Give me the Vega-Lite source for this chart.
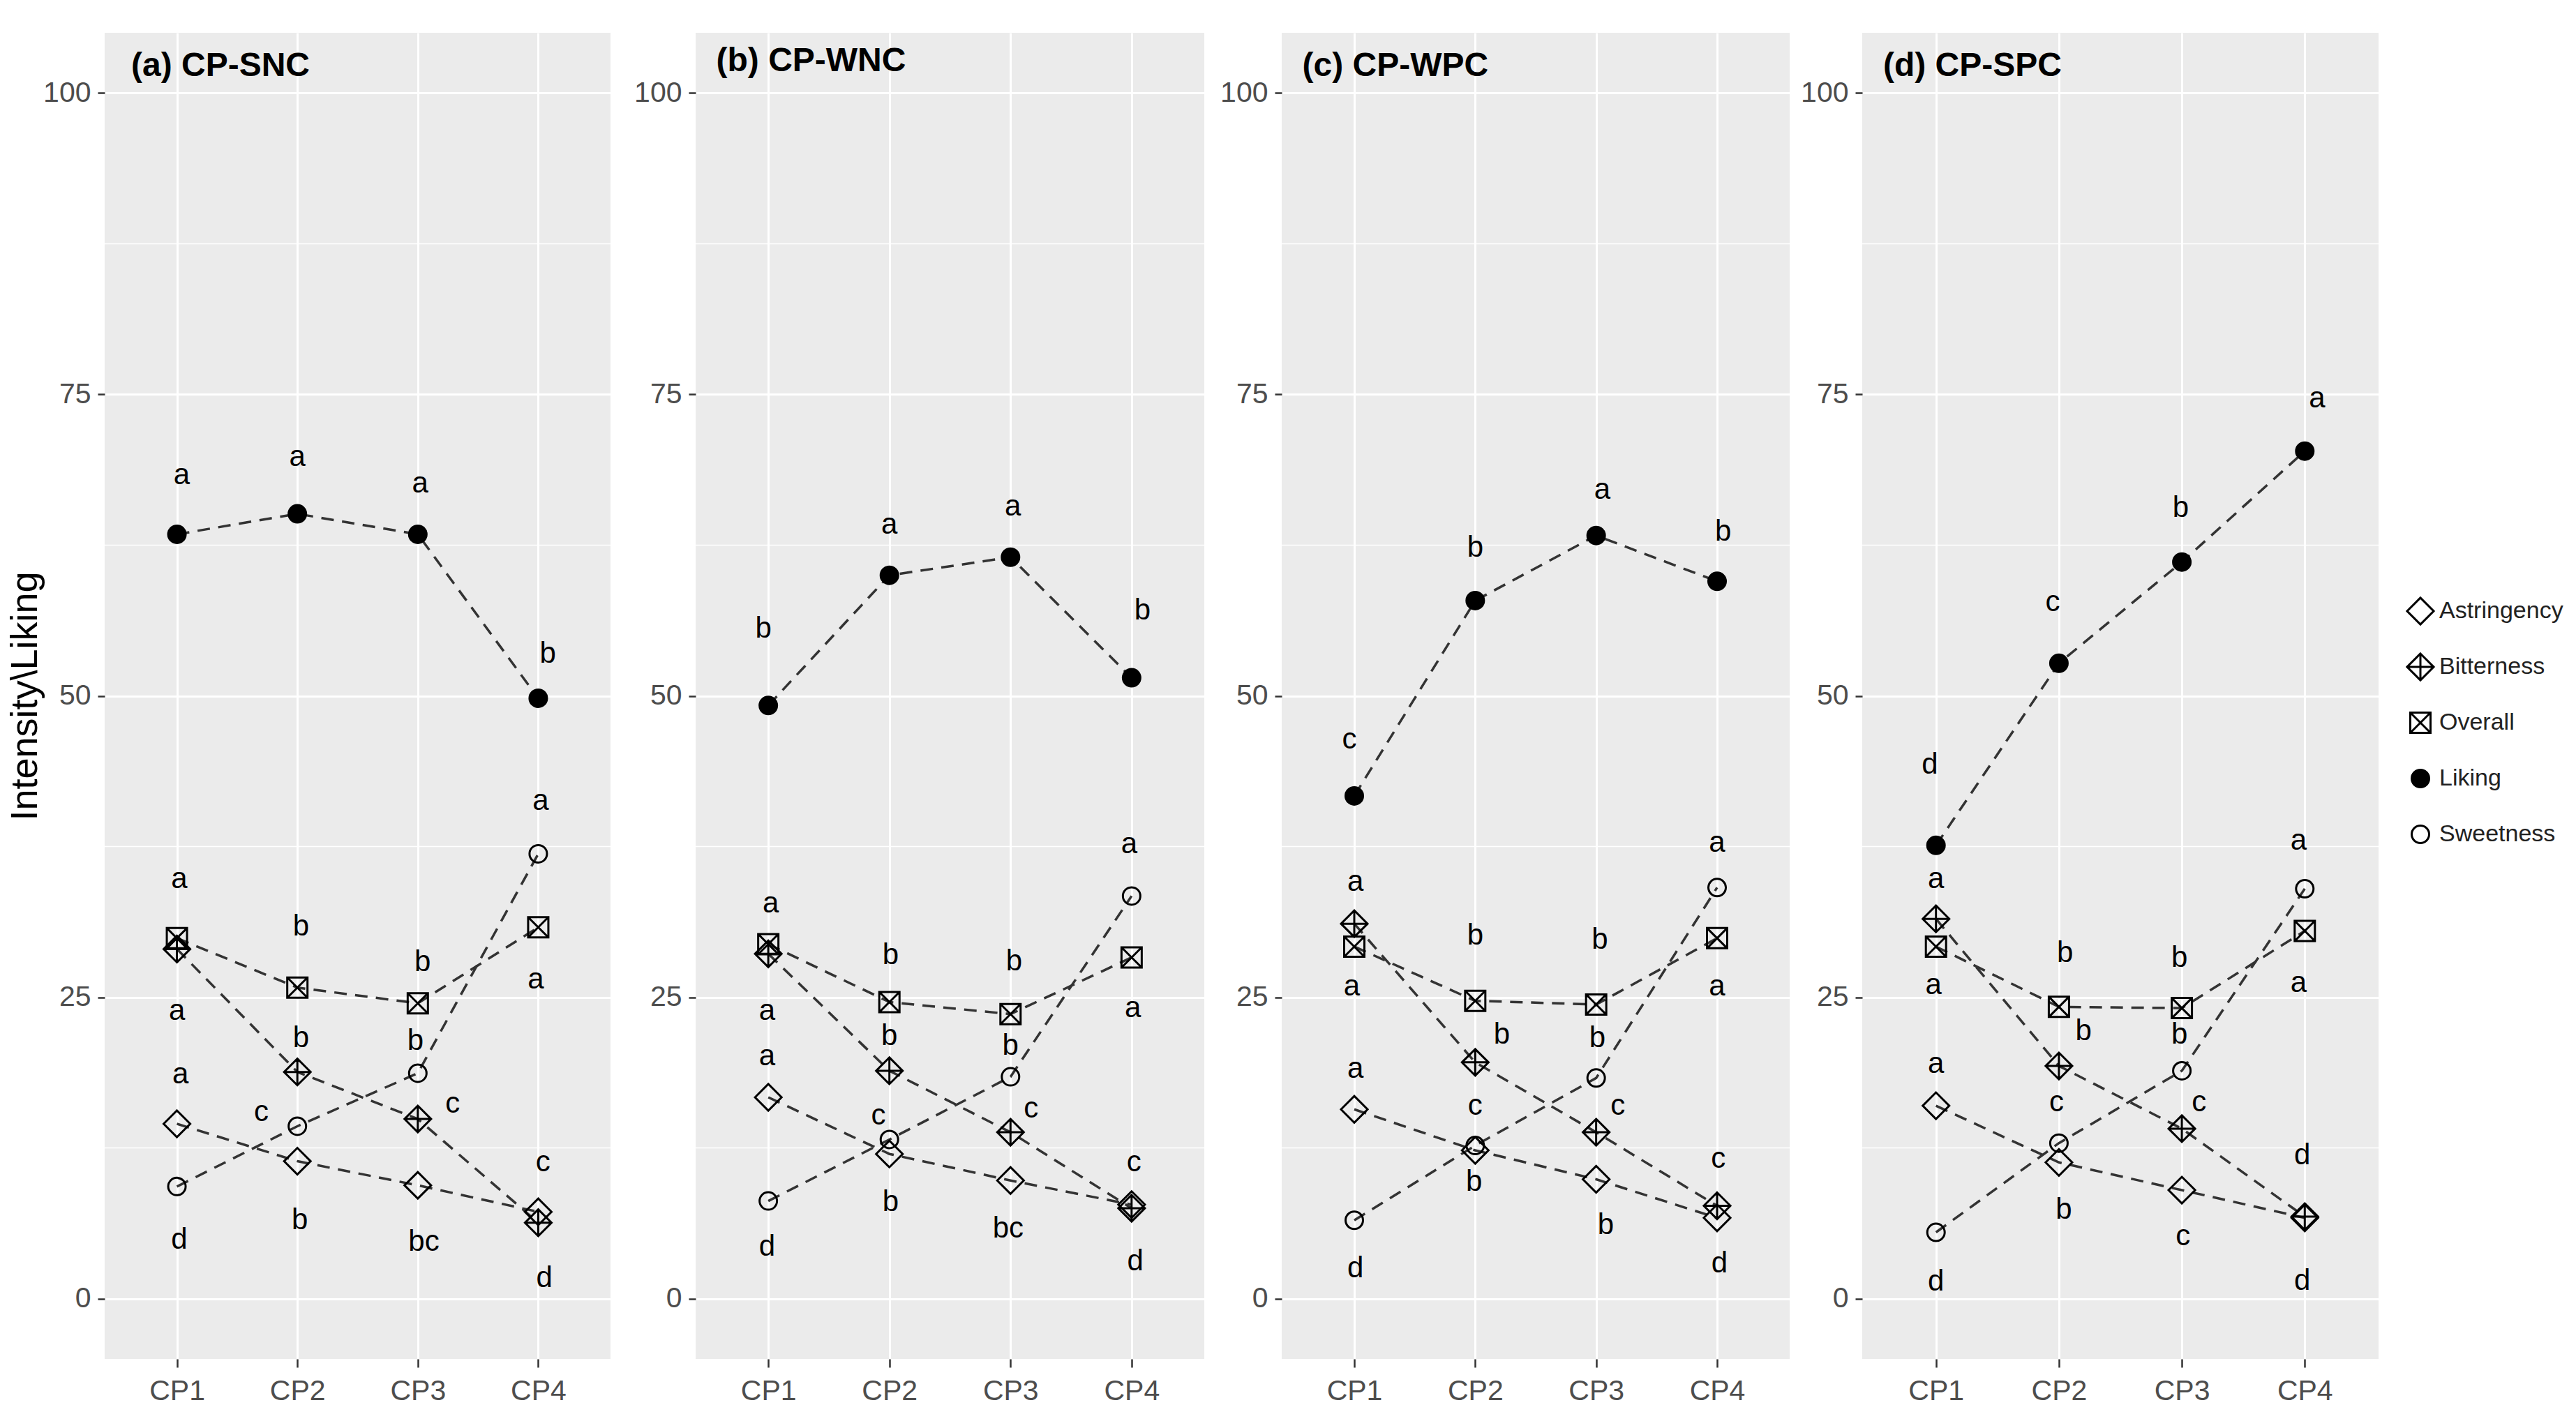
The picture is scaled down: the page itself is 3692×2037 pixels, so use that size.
{
  "$schema": "https://vega.github.io/schema/vega-lite/v6.json",
  "padding": {"left": 9, "top": 47, "right": 0, "bottom": 0},
  "datasets": {
    "pts": [
      {"panel":"a","attr":"Liking","cp":1,"value":63.4},{"panel":"a","attr":"Liking","cp":2,"value":65.1},{"panel":"a","attr":"Liking","cp":3,"value":63.4},{"panel":"a","attr":"Liking","cp":4,"value":49.8},
      {"panel":"a","attr":"Overall","cp":1,"value":29.9},{"panel":"a","attr":"Overall","cp":2,"value":25.8},{"panel":"a","attr":"Overall","cp":3,"value":24.5},{"panel":"a","attr":"Overall","cp":4,"value":30.8},
      {"panel":"a","attr":"Bitterness","cp":1,"value":29.0},{"panel":"a","attr":"Bitterness","cp":2,"value":18.8},{"panel":"a","attr":"Bitterness","cp":3,"value":14.9},{"panel":"a","attr":"Bitterness","cp":4,"value":6.3},
      {"panel":"a","attr":"Astringency","cp":1,"value":14.5},{"panel":"a","attr":"Astringency","cp":2,"value":11.4},{"panel":"a","attr":"Astringency","cp":3,"value":9.4},{"panel":"a","attr":"Astringency","cp":4,"value":7.2},
      {"panel":"a","attr":"Sweetness","cp":1,"value":9.3},{"panel":"a","attr":"Sweetness","cp":2,"value":14.3},{"panel":"a","attr":"Sweetness","cp":3,"value":18.7},{"panel":"a","attr":"Sweetness","cp":4,"value":36.9},
      {"panel":"b","attr":"Liking","cp":1,"value":49.2},{"panel":"b","attr":"Liking","cp":2,"value":60.0},{"panel":"b","attr":"Liking","cp":3,"value":61.5},{"panel":"b","attr":"Liking","cp":4,"value":51.5},
      {"panel":"b","attr":"Overall","cp":1,"value":29.4},{"panel":"b","attr":"Overall","cp":2,"value":24.6},{"panel":"b","attr":"Overall","cp":3,"value":23.6},{"panel":"b","attr":"Overall","cp":4,"value":28.3},
      {"panel":"b","attr":"Bitterness","cp":1,"value":28.6},{"panel":"b","attr":"Bitterness","cp":2,"value":18.9},{"panel":"b","attr":"Bitterness","cp":3,"value":13.8},{"panel":"b","attr":"Bitterness","cp":4,"value":7.5},
      {"panel":"b","attr":"Astringency","cp":1,"value":16.7},{"panel":"b","attr":"Astringency","cp":2,"value":12.0},{"panel":"b","attr":"Astringency","cp":3,"value":9.8},{"panel":"b","attr":"Astringency","cp":4,"value":7.8},
      {"panel":"b","attr":"Sweetness","cp":1,"value":8.1},{"panel":"b","attr":"Sweetness","cp":2,"value":13.2},{"panel":"b","attr":"Sweetness","cp":3,"value":18.4},{"panel":"b","attr":"Sweetness","cp":4,"value":33.4},
      {"panel":"c","attr":"Liking","cp":1,"value":41.7},{"panel":"c","attr":"Liking","cp":2,"value":57.9},{"panel":"c","attr":"Liking","cp":3,"value":63.3},{"panel":"c","attr":"Liking","cp":4,"value":59.5},
      {"panel":"c","attr":"Overall","cp":1,"value":29.2},{"panel":"c","attr":"Overall","cp":2,"value":24.7},{"panel":"c","attr":"Overall","cp":3,"value":24.4},{"panel":"c","attr":"Overall","cp":4,"value":29.9},
      {"panel":"c","attr":"Bitterness","cp":1,"value":31.1},{"panel":"c","attr":"Bitterness","cp":2,"value":19.6},{"panel":"c","attr":"Bitterness","cp":3,"value":13.8},{"panel":"c","attr":"Bitterness","cp":4,"value":7.7},
      {"panel":"c","attr":"Astringency","cp":1,"value":15.7},{"panel":"c","attr":"Astringency","cp":2,"value":12.3},{"panel":"c","attr":"Astringency","cp":3,"value":9.9},{"panel":"c","attr":"Astringency","cp":4,"value":6.7},
      {"panel":"c","attr":"Sweetness","cp":1,"value":6.5},{"panel":"c","attr":"Sweetness","cp":2,"value":12.7},{"panel":"c","attr":"Sweetness","cp":3,"value":18.3},{"panel":"c","attr":"Sweetness","cp":4,"value":34.1},
      {"panel":"d","attr":"Liking","cp":1,"value":37.6},{"panel":"d","attr":"Liking","cp":2,"value":52.7},{"panel":"d","attr":"Liking","cp":3,"value":61.1},{"panel":"d","attr":"Liking","cp":4,"value":70.3},
      {"panel":"d","attr":"Overall","cp":1,"value":29.2},{"panel":"d","attr":"Overall","cp":2,"value":24.2},{"panel":"d","attr":"Overall","cp":3,"value":24.1},{"panel":"d","attr":"Overall","cp":4,"value":30.5},
      {"panel":"d","attr":"Bitterness","cp":1,"value":31.5},{"panel":"d","attr":"Bitterness","cp":2,"value":19.3},{"panel":"d","attr":"Bitterness","cp":3,"value":14.1},{"panel":"d","attr":"Bitterness","cp":4,"value":6.8},
      {"panel":"d","attr":"Astringency","cp":1,"value":16.0},{"panel":"d","attr":"Astringency","cp":2,"value":11.3},{"panel":"d","attr":"Astringency","cp":3,"value":9.0},{"panel":"d","attr":"Astringency","cp":4,"value":6.7},
      {"panel":"d","attr":"Sweetness","cp":1,"value":5.5},{"panel":"d","attr":"Sweetness","cp":2,"value":12.9},{"panel":"d","attr":"Sweetness","cp":3,"value":18.9},{"panel":"d","attr":"Sweetness","cp":4,"value":34.0}
    ],
    "lbl": [
      {"panel":"a","lx":1.04,"ly":68.3,"letter":"a"},{"panel":"a","lx":2.0,"ly":69.8,"letter":"a"},{"panel":"a","lx":3.02,"ly":67.6,"letter":"a"},{"panel":"a","lx":4.08,"ly":53.5,"letter":"b"},
      {"panel":"a","lx":1.02,"ly":34.8,"letter":"a"},{"panel":"a","lx":1.0,"ly":23.9,"letter":"a"},{"panel":"a","lx":1.03,"ly":18.6,"letter":"a"},{"panel":"a","lx":1.02,"ly":4.9,"letter":"d"},
      {"panel":"a","lx":2.03,"ly":30.9,"letter":"b"},{"panel":"a","lx":2.03,"ly":21.6,"letter":"b"},{"panel":"a","lx":1.7,"ly":15.5,"letter":"c"},{"panel":"a","lx":2.02,"ly":6.5,"letter":"b"},
      {"panel":"a","lx":3.04,"ly":27.9,"letter":"b"},{"panel":"a","lx":2.98,"ly":21.4,"letter":"b"},{"panel":"a","lx":3.29,"ly":16.2,"letter":"c"},{"panel":"a","lx":3.05,"ly":4.7,"letter":"bc"},
      {"panel":"a","lx":4.02,"ly":41.3,"letter":"a"},{"panel":"a","lx":3.98,"ly":26.5,"letter":"a"},{"panel":"a","lx":4.04,"ly":11.3,"letter":"c"},{"panel":"a","lx":4.05,"ly":1.7,"letter":"d"},
      {"panel":"b","lx":0.96,"ly":55.6,"letter":"b"},{"panel":"b","lx":2.0,"ly":64.2,"letter":"a"},{"panel":"b","lx":3.02,"ly":65.7,"letter":"a"},{"panel":"b","lx":4.09,"ly":57.1,"letter":"b"},
      {"panel":"b","lx":1.02,"ly":32.8,"letter":"a"},{"panel":"b","lx":0.99,"ly":23.9,"letter":"a"},{"panel":"b","lx":0.99,"ly":20.1,"letter":"a"},{"panel":"b","lx":0.99,"ly":4.3,"letter":"d"},
      {"panel":"b","lx":2.01,"ly":28.5,"letter":"b"},{"panel":"b","lx":2.0,"ly":21.8,"letter":"b"},{"panel":"b","lx":1.91,"ly":15.2,"letter":"c"},{"panel":"b","lx":2.01,"ly":8.0,"letter":"b"},
      {"panel":"b","lx":3.03,"ly":28.0,"letter":"b"},{"panel":"b","lx":3.0,"ly":21.0,"letter":"b"},{"panel":"b","lx":3.17,"ly":15.8,"letter":"c"},{"panel":"b","lx":2.98,"ly":5.8,"letter":"bc"},
      {"panel":"b","lx":3.98,"ly":37.7,"letter":"a"},{"panel":"b","lx":4.01,"ly":24.1,"letter":"a"},{"panel":"b","lx":4.02,"ly":11.3,"letter":"c"},{"panel":"b","lx":4.03,"ly":3.1,"letter":"d"},
      {"panel":"c","lx":0.96,"ly":46.4,"letter":"c"},{"panel":"c","lx":2.0,"ly":62.3,"letter":"b"},{"panel":"c","lx":3.05,"ly":67.1,"letter":"a"},{"panel":"c","lx":4.05,"ly":63.6,"letter":"b"},
      {"panel":"c","lx":1.01,"ly":34.6,"letter":"a"},{"panel":"c","lx":0.98,"ly":25.9,"letter":"a"},{"panel":"c","lx":1.01,"ly":19.1,"letter":"a"},{"panel":"c","lx":1.01,"ly":2.5,"letter":"d"},
      {"panel":"c","lx":2.0,"ly":30.1,"letter":"b"},{"panel":"c","lx":2.22,"ly":21.9,"letter":"b"},{"panel":"c","lx":2.0,"ly":16.0,"letter":"c"},{"panel":"c","lx":1.99,"ly":9.7,"letter":"b"},
      {"panel":"c","lx":3.03,"ly":29.8,"letter":"b"},{"panel":"c","lx":3.01,"ly":21.6,"letter":"b"},{"panel":"c","lx":3.18,"ly":16.0,"letter":"c"},{"panel":"c","lx":3.08,"ly":6.1,"letter":"b"},
      {"panel":"c","lx":4.0,"ly":37.8,"letter":"a"},{"panel":"c","lx":4.0,"ly":25.9,"letter":"a"},{"panel":"c","lx":4.01,"ly":11.6,"letter":"c"},{"panel":"c","lx":4.02,"ly":2.9,"letter":"d"},
      {"panel":"d","lx":0.95,"ly":44.3,"letter":"d"},{"panel":"d","lx":1.95,"ly":57.8,"letter":"c"},{"panel":"d","lx":2.99,"ly":65.6,"letter":"b"},{"panel":"d","lx":4.1,"ly":74.7,"letter":"a"},
      {"panel":"d","lx":1.0,"ly":34.8,"letter":"a"},{"panel":"d","lx":0.98,"ly":26.0,"letter":"a"},{"panel":"d","lx":1.0,"ly":19.5,"letter":"a"},{"panel":"d","lx":1.0,"ly":1.4,"letter":"d"},
      {"panel":"d","lx":2.05,"ly":28.7,"letter":"b"},{"panel":"d","lx":2.2,"ly":22.2,"letter":"b"},{"panel":"d","lx":1.98,"ly":16.3,"letter":"c"},{"panel":"d","lx":2.04,"ly":7.4,"letter":"b"},
      {"panel":"d","lx":2.98,"ly":28.3,"letter":"b"},{"panel":"d","lx":2.98,"ly":21.9,"letter":"b"},{"panel":"d","lx":3.14,"ly":16.3,"letter":"c"},{"panel":"d","lx":3.01,"ly":5.2,"letter":"c"},
      {"panel":"d","lx":3.95,"ly":38.0,"letter":"a"},{"panel":"d","lx":3.95,"ly":26.2,"letter":"a"},{"panel":"d","lx":3.98,"ly":11.9,"letter":"d"},{"panel":"d","lx":3.98,"ly":1.5,"letter":"d"}
    ],
    "minor": [{"v": 12.5}, {"v": 37.5}, {"v": 62.5}, {"v": 87.5}],
    "titles": [{"panel":"a","title":"(a) CP-SNC"},{"panel":"b","title":"(b) CP-WNC"},{"panel":"c","title":"(c) CP-WPC"},{"panel":"d","title":"(d) CP-SPC"}]
  },
  "spacing": 21,
  "hconcat": [
    {
      "spacing": 32,
      "hconcat": [
        {
          "width": 725, "height": 1901,
          "layer": [
            {"data": {"name": "minor"}, "mark": {"type": "rule", "color": "#FFFFFF", "strokeWidth": 1.5},
             "encoding": {"y": {"field": "v", "type": "quantitative", "title": "Intensity\\Liking", "scale": {"domain": [-5, 105], "nice": false, "zero": false}, "axis": {"values": [0, 25, 50, 75, 100]}}}},
            {"data": {"name": "pts"}, "transform": [{"filter": "datum.panel === 'a'"}],
             "mark": {"type": "line", "color": "#333333", "strokeWidth": 3.5, "strokeDash": [18, 12]},
             "encoding": {"x": {"field": "cp", "type": "quantitative", "title": null, "scale": {"domain": [0.4, 4.6], "nice": false, "zero": false}, "axis": {"values": [1, 2, 3, 4], "labelExpr": "'CP' + datum.value"}},
                          "y": {"field": "value", "type": "quantitative", "title": "Intensity\\Liking"}, "detail": {"field": "attr"}}},
            {"data": {"name": "pts"}, "transform": [{"filter": "datum.panel === 'a'"}],
             "mark": {"type": "point", "filled": false, "strokeWidth": 3, "opacity": 1},
             "encoding": {"x": {"field": "cp", "type": "quantitative", "title": null}, "y": {"field": "value", "type": "quantitative", "title": "Intensity\\Liking"},
                          "shape": {"field": "attr", "type": "nominal", "legend": {"title": null}, "scale": {"domain": ["Astringency","Bitterness","Overall","Liking","Sweetness"], "range": ["diamond", "M0,-1L1,0L0,1L-1,0Z M0,-1L0,1 M-1,0L1,0", "M-1,-1L1,-1L1,1L-1,1Z M-1,-1L1,1 M1,-1L-1,1", "circle", "circle"]}},
                          "fill": {"field": "attr", "type": "nominal", "legend": {"title": null}, "scale": {"domain": ["Astringency","Bitterness","Overall","Liking","Sweetness"], "range": ["transparent","transparent","transparent","#000000","transparent"]}},
                          "stroke": {"field": "attr", "type": "nominal", "legend": {"title": null}, "scale": {"domain": ["Astringency","Bitterness","Overall","Liking","Sweetness"], "range": ["#000000","#000000","#000000","#000000","#000000"]}},
                          "size": {"field": "attr", "type": "nominal", "legend": {"title": null}, "scale": {"type": "ordinal", "domain": ["Astringency","Bitterness","Overall","Liking","Sweetness"], "range": [1450, 1450, 841, 625, 625]}}}},
            {"data": {"name": "lbl"}, "transform": [{"filter": "datum.panel === 'a'"}],
             "mark": {"type": "text", "fontSize": 42, "color": "#000000", "align": "center", "baseline": "middle"},
             "encoding": {"x": {"field": "lx", "type": "quantitative", "title": null}, "y": {"field": "ly", "type": "quantitative", "title": "Intensity\\Liking"}, "text": {"field": "letter"}}},
            {"data": {"name": "titles"}, "transform": [{"filter": "datum.panel === 'a'"}],
             "mark": {"type": "text", "fontSize": 48, "fontWeight": "bold", "color": "#000000", "align": "left", "baseline": "alphabetic"},
             "encoding": {"x": {"datum": 0.62}, "y": {"datum": 101.4}, "text": {"field": "title"}}}
          ]
        },
        {
          "width": 729, "height": 1901,
          "layer": [
            {"data": {"name": "minor"}, "mark": {"type": "rule", "color": "#FFFFFF", "strokeWidth": 1.5},
             "encoding": {"y": {"field": "v", "type": "quantitative", "title": null, "scale": {"domain": [-5, 105], "nice": false, "zero": false}, "axis": {"values": [0, 25, 50, 75, 100]}}}},
            {"data": {"name": "pts"}, "transform": [{"filter": "datum.panel === 'b'"}],
             "mark": {"type": "line", "color": "#333333", "strokeWidth": 3.5, "strokeDash": [18, 12]},
             "encoding": {"x": {"field": "cp", "type": "quantitative", "title": null, "scale": {"domain": [0.4, 4.6], "nice": false, "zero": false}, "axis": {"values": [1, 2, 3, 4], "labelExpr": "'CP' + datum.value"}},
                          "y": {"field": "value", "type": "quantitative", "title": null}, "detail": {"field": "attr"}}},
            {"data": {"name": "pts"}, "transform": [{"filter": "datum.panel === 'b'"}],
             "mark": {"type": "point", "filled": false, "strokeWidth": 3, "opacity": 1},
             "encoding": {"x": {"field": "cp", "type": "quantitative", "title": null}, "y": {"field": "value", "type": "quantitative", "title": null},
                          "shape": {"field": "attr", "type": "nominal", "legend": {"title": null}, "scale": {"domain": ["Astringency","Bitterness","Overall","Liking","Sweetness"], "range": ["diamond", "M0,-1L1,0L0,1L-1,0Z M0,-1L0,1 M-1,0L1,0", "M-1,-1L1,-1L1,1L-1,1Z M-1,-1L1,1 M1,-1L-1,1", "circle", "circle"]}},
                          "fill": {"field": "attr", "type": "nominal", "legend": {"title": null}, "scale": {"domain": ["Astringency","Bitterness","Overall","Liking","Sweetness"], "range": ["transparent","transparent","transparent","#000000","transparent"]}},
                          "stroke": {"field": "attr", "type": "nominal", "legend": {"title": null}, "scale": {"domain": ["Astringency","Bitterness","Overall","Liking","Sweetness"], "range": ["#000000","#000000","#000000","#000000","#000000"]}},
                          "size": {"field": "attr", "type": "nominal", "legend": {"title": null}, "scale": {"type": "ordinal", "domain": ["Astringency","Bitterness","Overall","Liking","Sweetness"], "range": [1450, 1450, 841, 625, 625]}}}},
            {"data": {"name": "lbl"}, "transform": [{"filter": "datum.panel === 'b'"}],
             "mark": {"type": "text", "fontSize": 42, "color": "#000000", "align": "center", "baseline": "middle"},
             "encoding": {"x": {"field": "lx", "type": "quantitative", "title": null}, "y": {"field": "ly", "type": "quantitative", "title": null}, "text": {"field": "letter"}}},
            {"data": {"name": "titles"}, "transform": [{"filter": "datum.panel === 'b'"}],
             "mark": {"type": "text", "fontSize": 48, "fontWeight": "bold", "color": "#000000", "align": "left", "baseline": "alphabetic"},
             "encoding": {"x": {"datum": 0.57}, "y": {"datum": 101.8}, "text": {"field": "title"}}}
          ]
        }
      ]
    },
    {
      "spacing": 14,
      "hconcat": [
        {
          "width": 728, "height": 1901,
          "layer": [
            {"data": {"name": "minor"}, "mark": {"type": "rule", "color": "#FFFFFF", "strokeWidth": 1.5},
             "encoding": {"y": {"field": "v", "type": "quantitative", "title": null, "scale": {"domain": [-5, 105], "nice": false, "zero": false}, "axis": {"values": [0, 25, 50, 75, 100]}}}},
            {"data": {"name": "pts"}, "transform": [{"filter": "datum.panel === 'c'"}],
             "mark": {"type": "line", "color": "#333333", "strokeWidth": 3.5, "strokeDash": [18, 12]},
             "encoding": {"x": {"field": "cp", "type": "quantitative", "title": null, "scale": {"domain": [0.4, 4.6], "nice": false, "zero": false}, "axis": {"values": [1, 2, 3, 4], "labelExpr": "'CP' + datum.value"}},
                          "y": {"field": "value", "type": "quantitative", "title": null}, "detail": {"field": "attr"}}},
            {"data": {"name": "pts"}, "transform": [{"filter": "datum.panel === 'c'"}],
             "mark": {"type": "point", "filled": false, "strokeWidth": 3, "opacity": 1},
             "encoding": {"x": {"field": "cp", "type": "quantitative", "title": null}, "y": {"field": "value", "type": "quantitative", "title": null},
                          "shape": {"field": "attr", "type": "nominal", "legend": {"title": null}, "scale": {"domain": ["Astringency","Bitterness","Overall","Liking","Sweetness"], "range": ["diamond", "M0,-1L1,0L0,1L-1,0Z M0,-1L0,1 M-1,0L1,0", "M-1,-1L1,-1L1,1L-1,1Z M-1,-1L1,1 M1,-1L-1,1", "circle", "circle"]}},
                          "fill": {"field": "attr", "type": "nominal", "legend": {"title": null}, "scale": {"domain": ["Astringency","Bitterness","Overall","Liking","Sweetness"], "range": ["transparent","transparent","transparent","#000000","transparent"]}},
                          "stroke": {"field": "attr", "type": "nominal", "legend": {"title": null}, "scale": {"domain": ["Astringency","Bitterness","Overall","Liking","Sweetness"], "range": ["#000000","#000000","#000000","#000000","#000000"]}},
                          "size": {"field": "attr", "type": "nominal", "legend": {"title": null}, "scale": {"type": "ordinal", "domain": ["Astringency","Bitterness","Overall","Liking","Sweetness"], "range": [1450, 1450, 841, 625, 625]}}}},
            {"data": {"name": "lbl"}, "transform": [{"filter": "datum.panel === 'c'"}],
             "mark": {"type": "text", "fontSize": 42, "color": "#000000", "align": "center", "baseline": "middle"},
             "encoding": {"x": {"field": "lx", "type": "quantitative", "title": null}, "y": {"field": "ly", "type": "quantitative", "title": null}, "text": {"field": "letter"}}},
            {"data": {"name": "titles"}, "transform": [{"filter": "datum.panel === 'c'"}],
             "mark": {"type": "text", "fontSize": 48, "fontWeight": "bold", "color": "#000000", "align": "left", "baseline": "alphabetic"},
             "encoding": {"x": {"datum": 0.57}, "y": {"datum": 101.4}, "text": {"field": "title"}}}
          ]
        },
        {
          "width": 740, "height": 1901,
          "layer": [
            {"data": {"name": "minor"}, "mark": {"type": "rule", "color": "#FFFFFF", "strokeWidth": 1.5},
             "encoding": {"y": {"field": "v", "type": "quantitative", "title": null, "scale": {"domain": [-5, 105], "nice": false, "zero": false}, "axis": {"values": [0, 25, 50, 75, 100]}}}},
            {"data": {"name": "pts"}, "transform": [{"filter": "datum.panel === 'd'"}],
             "mark": {"type": "line", "color": "#333333", "strokeWidth": 3.5, "strokeDash": [18, 12]},
             "encoding": {"x": {"field": "cp", "type": "quantitative", "title": null, "scale": {"domain": [0.4, 4.6], "nice": false, "zero": false}, "axis": {"values": [1, 2, 3, 4], "labelExpr": "'CP' + datum.value"}},
                          "y": {"field": "value", "type": "quantitative", "title": null}, "detail": {"field": "attr"}}},
            {"data": {"name": "pts"}, "transform": [{"filter": "datum.panel === 'd'"}],
             "mark": {"type": "point", "filled": false, "strokeWidth": 3, "opacity": 1},
             "encoding": {"x": {"field": "cp", "type": "quantitative", "title": null}, "y": {"field": "value", "type": "quantitative", "title": null},
                          "shape": {"field": "attr", "type": "nominal", "legend": {"title": null}, "scale": {"domain": ["Astringency","Bitterness","Overall","Liking","Sweetness"], "range": ["diamond", "M0,-1L1,0L0,1L-1,0Z M0,-1L0,1 M-1,0L1,0", "M-1,-1L1,-1L1,1L-1,1Z M-1,-1L1,1 M1,-1L-1,1", "circle", "circle"]}},
                          "fill": {"field": "attr", "type": "nominal", "legend": {"title": null}, "scale": {"domain": ["Astringency","Bitterness","Overall","Liking","Sweetness"], "range": ["transparent","transparent","transparent","#000000","transparent"]}},
                          "stroke": {"field": "attr", "type": "nominal", "legend": {"title": null}, "scale": {"domain": ["Astringency","Bitterness","Overall","Liking","Sweetness"], "range": ["#000000","#000000","#000000","#000000","#000000"]}},
                          "size": {"field": "attr", "type": "nominal", "legend": {"title": null}, "scale": {"type": "ordinal", "domain": ["Astringency","Bitterness","Overall","Liking","Sweetness"], "range": [1450, 1450, 841, 625, 625]}}}},
            {"data": {"name": "lbl"}, "transform": [{"filter": "datum.panel === 'd'"}],
             "mark": {"type": "text", "fontSize": 42, "color": "#000000", "align": "center", "baseline": "middle"},
             "encoding": {"x": {"field": "lx", "type": "quantitative", "title": null}, "y": {"field": "ly", "type": "quantitative", "title": null}, "text": {"field": "letter"}}},
            {"data": {"name": "titles"}, "transform": [{"filter": "datum.panel === 'd'"}],
             "mark": {"type": "text", "fontSize": 48, "fontWeight": "bold", "color": "#000000", "align": "left", "baseline": "alphabetic"},
             "encoding": {"x": {"datum": 0.57}, "y": {"datum": 101.4}, "text": {"field": "title"}}}
          ]
        }
      ]
    }
  ],
  "resolve": {"scale": {"shape": "shared", "fill": "shared", "size": "shared", "stroke": "shared"}},
  "config": {
    "view": {"fill": "#EBEBEB", "stroke": null},
    "font": "Liberation Sans",
    "axis": {
      "domain": false, "tickColor": "#333333", "tickSize": 12, "tickWidth": 2.5,
      "grid": true, "gridColor": "#FFFFFF", "gridWidth": 3,
      "labelColor": "#4D4D4D", "labelFont": "Liberation Sans", "labelFontSize": 41,
      "titleFont": "Liberation Sans", "titleFontWeight": "normal", "titleColor": "#000000", "titleFontSize": 54
    },
    "axisX": {"labelPadding": 14, "labelAngle": 0},
    "axisY": {"labelPadding": 10, "minExtent": 85, "maxExtent": 85, "titlePadding": 2, "tickSize": 10},
    "legend": {
      "orient": "none", "legendX": 3298, "legendY": 804,
      "labelFont": "Liberation Sans", "labelFontSize": 34, "labelColor": "#222222", "labelLimit": 400,
      "symbolStrokeWidth": 3, "clipHeight": 50, "rowPadding": 30, "labelOffset": 6, "padding": 0
    }
  }
}
